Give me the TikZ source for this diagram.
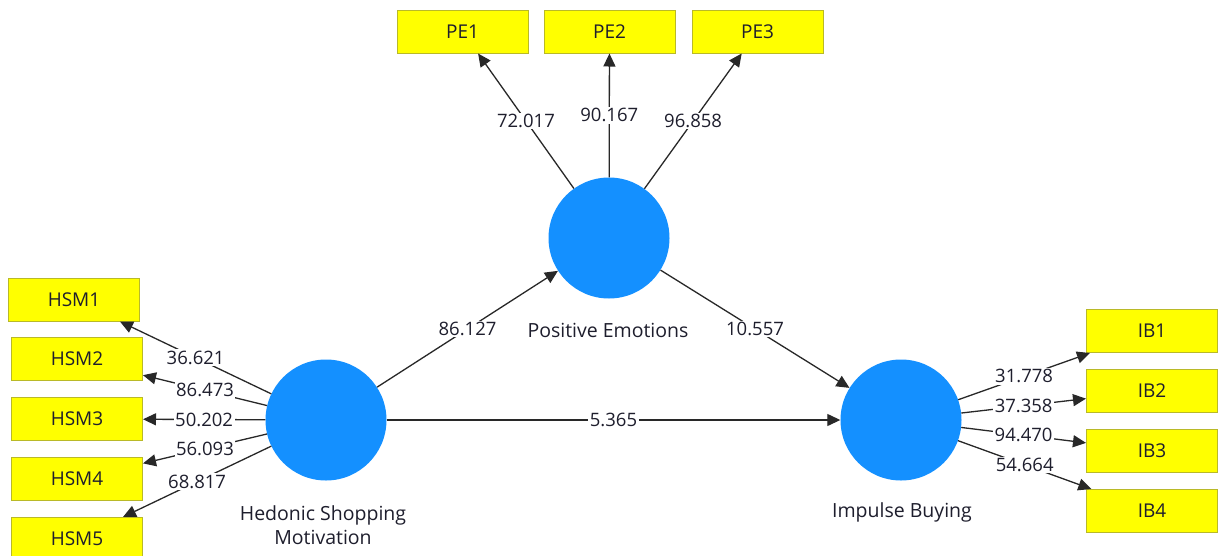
\documentclass[tikz,border=0pt]{standalone}
\usepackage{fontspec}
\setmainfont{Open Sans}
\usetikzlibrary{arrows.meta}
\definecolor{boxyellow}{RGB}{255,255,0}
\definecolor{boxedge}{RGB}{185,185,40}
\definecolor{lvblue}{RGB}{20,144,255}
\definecolor{linegray}{RGB}{40,40,40}
\definecolor{txt}{RGB}{30,30,45}
\begin{document}
\begin{tikzpicture}[x=1pt,y=-1pt,
  ind/.style={draw=boxedge, fill=boxyellow, minimum width=131pt, minimum height=43pt, inner sep=0pt, line width=1pt, font=\fontsize{19}{21}\selectfont, text=txt},
  lv/.style={circle, fill=lvblue, minimum size=121pt, inner sep=0pt},
  arr/.style={draw=linegray, line width=1.3pt, -{Triangle[length=13pt,width=12pt]}},
  val/.style={fill=white, inner sep=1.5pt, font=\fontsize{18.5}{20}\selectfont, text=txt},
  lbl/.style={font=\fontsize{19.5}{24}\selectfont, text=txt, align=center}]
\useasboundingbox[fill=white] (0,0) rectangle (1219,555);
% latent variables
\node[lv] (hsm) at (326,420) {};
\node[lv] (pe) at (609,238) {};
\node[lv] (ib) at (901,420) {};
\node[lbl] (hsmlbl) at (323,525) {Hedonic Shopping\\Motivation};
\node[lbl] (pelbl) at (608,330) {Positive Emotions};
\node[lbl] (iblbl) at (902,512) {Impulse Buying};
% indicators
\node[ind] (hsm1) at (74,299.5) {HSM1};
\node[ind] (hsm2) at (77,359) {HSM2};
\node[ind] (hsm3) at (77,419) {HSM3};
\node[ind] (hsm4) at (77,479) {HSM4};
\node[ind] (hsm5) at (77,539) {HSM5};
\node[ind] (pe1) at (462.5,31.5) {PE1};
\node[ind] (pe2) at (609.5,31.5) {PE2};
\node[ind] (pe3) at (757.5,31.5) {PE3};
\node[ind] (ib1) at (1152,331) {IB1};
\node[ind] (ib2) at (1152,391) {IB2};
\node[ind] (ib3) at (1152,451) {IB3};
\node[ind] (ib4) at (1152,511) {IB4};
% outer loadings
\draw[arr] (hsm) -- node[val] {36.621} (hsm1);
\draw[arr] (hsm) -- node[val] {86.473} (hsm2);
\draw[arr] (hsm) -- node[val] {50.202} (hsm3);
\draw[arr] (hsm) -- node[val] {56.093} (hsm4);
\draw[arr] (hsm) -- node[val] {68.817} (hsm5);
\draw[arr] (pe) -- node[val] {72.017} (pe1);
\draw[arr] (pe) -- node[val] {90.167} (pe2);
\draw[arr] (pe) -- node[val] {96.858} (pe3);
\draw[arr] (ib) -- node[val] {31.778} (ib1);
\draw[arr] (ib) -- node[val] {37.358} (ib2);
\draw[arr] (ib) -- node[val] {94.470} (ib3);
\draw[arr] (ib) -- node[val] {54.664} (ib4);
% structural paths
\draw[arr] (hsm) -- node[val] {86.127} (pe);
\draw[arr] (pe) -- node[val] {10.557} (ib);
\draw[arr] (hsm) -- node[val] {5.365} (ib);
\end{tikzpicture}
\end{document}
